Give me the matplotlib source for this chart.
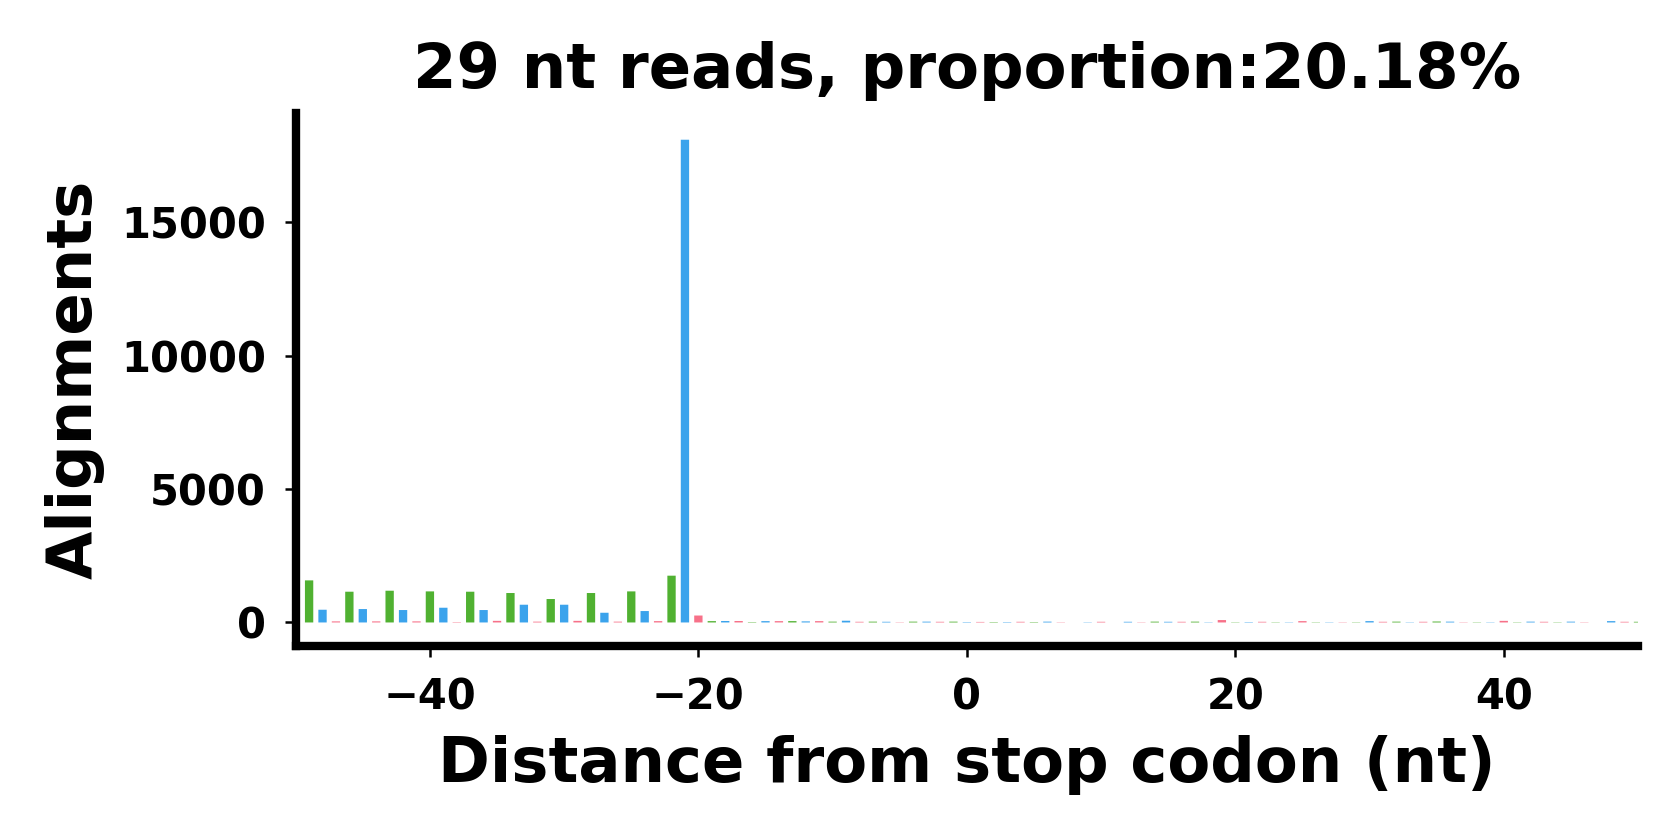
import matplotlib
matplotlib.use("Agg")
import matplotlib.pyplot as plt

positions = list(range(-50, 51))
counts = [
    30,                                   # -50
    1578, 477, 40, 1153, 503, 40, 1190, 466, 40, 1165,   # -49..-40
    552, 15, 1153, 466, 60, 1104, 665, 30, 879, 665,     # -39..-30
    60, 1104, 364, 30, 1165, 428, 50, 1754, 18100, 260,  # -29..-20
    50, 55, 55, 15, 50, 50, 50, 40, 50, 30,              # -19..-10
    65, 25, 30, 25, 10, 30, 30, 25, 30, 15,              # -9..0
    20, 15, 15, 25, 15, 30, 10, 0, 10, 25,               # 1..10
    0, 25, 10, 30, 25, 25, 30, 10, 90, 10,               # 11..20
    15, 25, 10, 10, 50, 10, 10, 10, 10, 50,              # 21..30
    25, 30, 10, 25, 35, 30, 10, 10, 10, 60,              # 31..40
    10, 30, 25, 10, 30, 10, 0, 50, 25, 25,               # 41..50
]
frame_colors = ["#3ba3ec", "#f77189", "#50b131"]  # frame 0, 1, 2 (position mod 3)

title = "29 nt reads, proportion:20.18%"
xlabel = "Distance from stop codon (nt)"
ylabel = "Alignments"

plt.rcParams['font.family'] = ['DejaVu Sans']
plt.rcParams['font.weight'] = 'bold'

fig = plt.figure(figsize=(5.6, 2.8), dpi=300)
ax = fig.add_axes([0.176, 0.2304, 0.799, 0.635])

colors = [frame_colors[p % 3] for p in positions]
bars = ax.bar(positions, counts, width=0.62, color=colors, linewidth=0)
for b in bars:
    b.set_snap(False)

ax.set_xlim(-50, 50)
ax.set_ylim(-900, 19100)
ax.set_xticks([-40, -20, 0, 20, 40])
ax.set_yticks([0, 5000, 10000, 15000])

for s in ["top", "right"]:
    ax.spines[s].set_visible(False)
for s in ["left", "bottom"]:
    ax.spines[s].set_linewidth(2)

ax.tick_params(axis='both', labelsize=10, length=2.6, width=0.6, pad=4.5)
for lab in ax.get_xticklabels() + ax.get_yticklabels():
    lab.set_fontweight('bold')

ax.set_title(title, fontsize=15, fontweight='bold', pad=6)
ax.set_xlabel(xlabel, fontsize=15, fontweight='bold', labelpad=4)
ax.set_ylabel(ylabel, fontsize=15, fontweight='bold', labelpad=4)

fig.savefig("out.png", dpi=300)
